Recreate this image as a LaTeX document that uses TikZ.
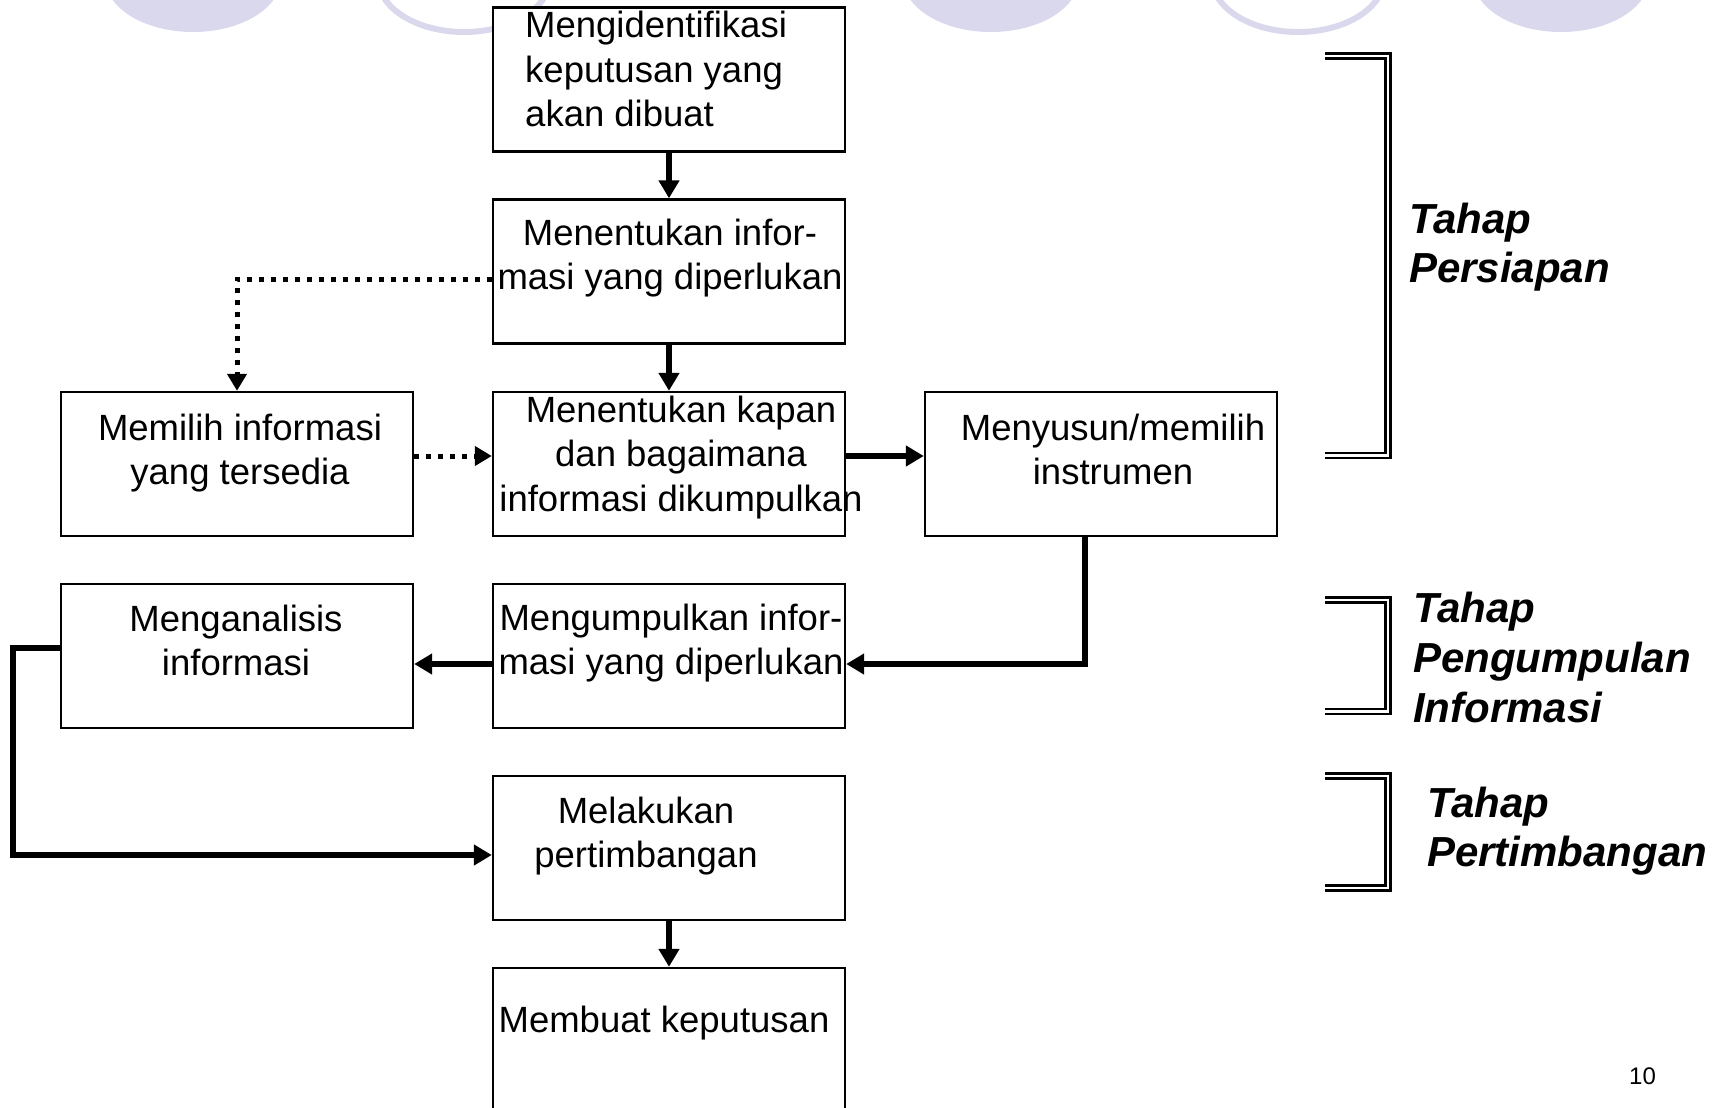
\documentclass[tikz,border=0pt]{standalone}
\usepackage{fontspec}
\setmainfont{Liberation Sans}
\usetikzlibrary{arrows.meta}
\definecolor{lav}{RGB}{218,216,236}
\newcommand{\fstrut}{\rule{0pt}{30pt}}
\newcommand{\sstrut}{\rule{0pt}{34pt}}
\begin{document}
\begin{tikzpicture}[x=1pt,y=-1pt,
  box/.style={draw=black, fill=white, line width=2.4pt, minimum width=352pt, minimum height=144pt, inner sep=0pt},
  txt/.style={font=\fontsize{36.5}{44.5}\selectfont, inner sep=0pt, align=center, anchor=north},
  flow/.style={line width=6pt, -{Triangle[length=18pt,width=20pt]}},
  dotflow/.style={line width=5pt, dash pattern=on 5pt off 7pt, -{Triangle[length=17pt,width=19pt]}},
  stage/.style={font=\fontsize{42}{49.5}\selectfont\bfseries\itshape, align=left, anchor=north west, inner sep=0pt},
  brk/.style={double=white, draw=black, line width=2.6pt, double distance=2.6pt},
  blob/.style={fill=lav, draw=none},
  ring/.style={draw=lav, line width=6pt}
]
\useasboundingbox (0,0) rectangle (1729,1108);
\clip (0,0) rectangle (1729,1108);

% decorative shapes at the top
\fill[blob] (193,-22) ellipse [x radius=88pt, y radius=54pt];
\draw[ring] (464,-22) ellipse [x radius=86pt, y radius=54pt];
\fill[blob] (991,-22) ellipse [x radius=88pt, y radius=54pt];
\draw[ring] (1298,-22) ellipse [x radius=86pt, y radius=54pt];
\fill[blob] (1561,-22) ellipse [x radius=88pt, y radius=54pt];

% boxes
\node[box] (b1) at (669,79.5) {};
\node[box] (b2) at (669,271.5) {};
\node[box] (b3) at (669,464) {};
\node[box] (b4) at (237,464) {};
\node[box] (b5) at (1101,464) {};
\node[box] (b6) at (237,656) {};
\node[box] (b7) at (669,656) {};
\node[box] (b8) at (669,848) {};
\node[box] (b9) at (669,1040) {};

% box texts
\node[txt, align=left, anchor=north west] (t1) at (525,7.5) {\fstrut Mengidentifikasi\\keputusan yang\\akan dibuat};
\node[txt] (t2) at (670,215) {\fstrut Menentukan infor-\\masi yang diperlukan};
\node[txt] (t3) at (681,392) {\fstrut Menentukan kapan\\dan bagaimana\\informasi dikumpulkan};
\node[txt] (t4) at (240,410) {\fstrut Memilih informasi\\yang tersedia};
\node[txt] (t5) at (1113,410) {\fstrut Menyusun/memilih\\instrumen};
\node[txt] (t6) at (236,601) {\fstrut Menganalisis\\informasi};
\node[txt] (t7) at (671,600) {\fstrut Mengumpulkan infor-\\masi yang diperlukan};
\node[txt] (t8) at (646,793) {\fstrut Melakukan\\pertimbangan};
\node[txt] (t9) at (664,1002) {\fstrut Membuat keputusan};

% connectors
\coordinate (c6) at (13,648);
\draw[flow] (b1.south) -- (b2.north);
\draw[flow] (b2.south) -- (b3.north);
\draw[flow] ([yshift=8pt]b3.east) -- ([yshift=8pt]b5.west);
\draw[flow] ([xshift=-16pt]b5.south) |- ([yshift=-8pt]b7.east);
\draw[flow] ([yshift=-8pt]b7.west) -- ([yshift=-8pt]b6.east);
\draw[flow] ([yshift=8pt]b6.west) -- (c6) |- ([yshift=-7pt]b8.west);
\draw[flow] (b8.south) -- (b9.north);
\draw[dotflow] ([yshift=-7.5pt]b2.west) -| (b4.north);
\draw[dotflow] ([yshift=8pt]b4.east) -- ([yshift=8pt]b3.west);

% stage brackets
\draw[brk] (1325,56) -- (1388,56) -- (1388,455.5) -- (1325,455.5);
\draw[brk] (1325,600) -- (1388,600) -- (1388,711.5) -- (1325,711.5);
\draw[brk] (1325,776) -- (1388,776) -- (1388,888) -- (1325,888);

\node[stage] (s1) at (1409,199) {\sstrut Tahap\\Persiapan};
\node[stage, font=\fontsize{42}{50}\selectfont\bfseries\itshape] (s2) at (1413,588) {\sstrut Tahap\\Pengumpulan\\Informasi};
\node[stage] (s3) at (1427,783) {\sstrut Tahap\\Pertimbangan};

\node[font=\fontsize{24}{28}\selectfont, anchor=base west, inner sep=0pt] (pg) at (1629,1084) {10};
\end{tikzpicture}
\end{document}
